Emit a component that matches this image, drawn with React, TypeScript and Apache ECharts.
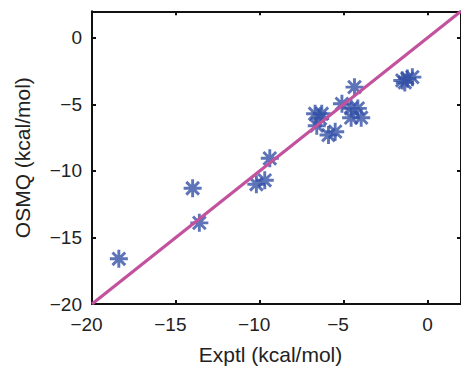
import React, { useEffect, useRef } from "react";
import * as echarts from "echarts";

const exptl = [-18.4, -14.0, -13.6, -10.2, -9.7, -9.4, -6.7, -6.3, -6.4, -6.6, -5.9, -5.5, -5.1, -4.35, -4.55, -4.15, -4.55, -3.95, -1.5, -1.2, -0.9, -1.35];
const osmq = [-16.6, -11.3, -13.9, -11.0, -10.7, -9.05, -5.7, -5.7, -6.05, -6.6, -7.3, -7.05, -4.95, -3.7, -5.3, -5.3, -6.0, -6.0, -3.2, -3.05, -2.95, -3.35];
const identityLine = [-20, 2];
const axisMin = -20;
const axisMax = 2;
const tickStep = 5;
const xTitle = "Exptl (kcal/mol)";
const yTitle = "OSMQ (kcal/mol)";

const FONT = "Liberation Sans";
const fmtX = (v: number) => {
  if (v % 5 !== 0) return "";
  return v < 0 ? "{neg|\u2212" + Math.abs(v) + "}" : "{pos|" + v + "}";
};
const fmtY = (v: number) => (v % 5 === 0 ? String(v).replace("-", "\u2212") : "");

export default function App() {
  const ref = useRef<HTMLDivElement>(null);
  useEffect(() => {
    if (!ref.current) return;
    const chart = echarts.init(ref.current, undefined, { renderer: "svg" });
    const points = exptl.map((x, i) => [x, osmq[i]]);
    const linePts = identityLine.map((v) => [v, v]);
    const baseAxis = {
      type: "value" as const,
      min: axisMin,
      max: axisMax,
      interval: tickStep,
      splitLine: { show: false },
      axisLine: { show: true, onZero: false, lineStyle: { color: "#111", width: 2 } },
      axisTick: { show: true, inside: true, length: 4, lineStyle: { color: "#111", width: 2 } },
    };
    const labelStyle = { fontFamily: FONT, fontSize: 19, color: "#222" };
    chart.setOption({
      animation: false,
      backgroundColor: "#fff",
      grid: { left: 92, top: 11.3, width: 371, height: 297, containLabel: false },
      xAxis: [
        {
          ...baseAxis,
          position: "bottom",
          name: xTitle,
          nameLocation: "middle",
          nameGap: 40,
          nameTextStyle: { fontFamily: FONT, fontSize: 21, color: "#222", padding: [0, 12, 0, 0] },
          axisLabel: {
            show: true,
            formatter: fmtX,
            margin: 11,
            showMaxLabel: false,
            ...labelStyle,
            rich: {
              neg: { ...labelStyle, padding: [0, 11, 0, 0] },
              pos: { ...labelStyle },
            },
          },
        },
        {
          ...baseAxis,
          position: "top",
          axisLabel: { show: false },
        },
      ],
      yAxis: [
        {
          ...baseAxis,
          position: "left",
          name: yTitle,
          nameLocation: "middle",
          nameGap: 59,
          nameTextStyle: { fontFamily: FONT, fontSize: 21, color: "#222" },
          axisLabel: { show: true, formatter: fmtY, margin: 10, showMaxLabel: false, ...labelStyle },
        },
        {
          ...baseAxis,
          position: "right",
          axisLabel: { show: false },
        },
      ],
      series: [
        {
          type: "scatter",
          data: points,
          symbol: "path://M0,-10L0,10M-10,0L10,0M-7.07,-7.07L7.07,7.07M-7.07,7.07L7.07,-7.07",
          symbolSize: 18,
          itemStyle: { color: "rgba(0,0,0,0)", borderColor: "#3451a6", borderWidth: 2.9 },
          z: 2,
        },
        {
          type: "line",
          data: linePts,
          symbol: "none",
          lineStyle: { color: "#c2519e", width: 3.2 },
          z: 3,
        },
      ],
    });
    return () => chart.dispose();
  }, []);
  return <div ref={ref} style={{ position: "absolute", left: 0, top: 0, width: 461, height: 370 }} />;
}
